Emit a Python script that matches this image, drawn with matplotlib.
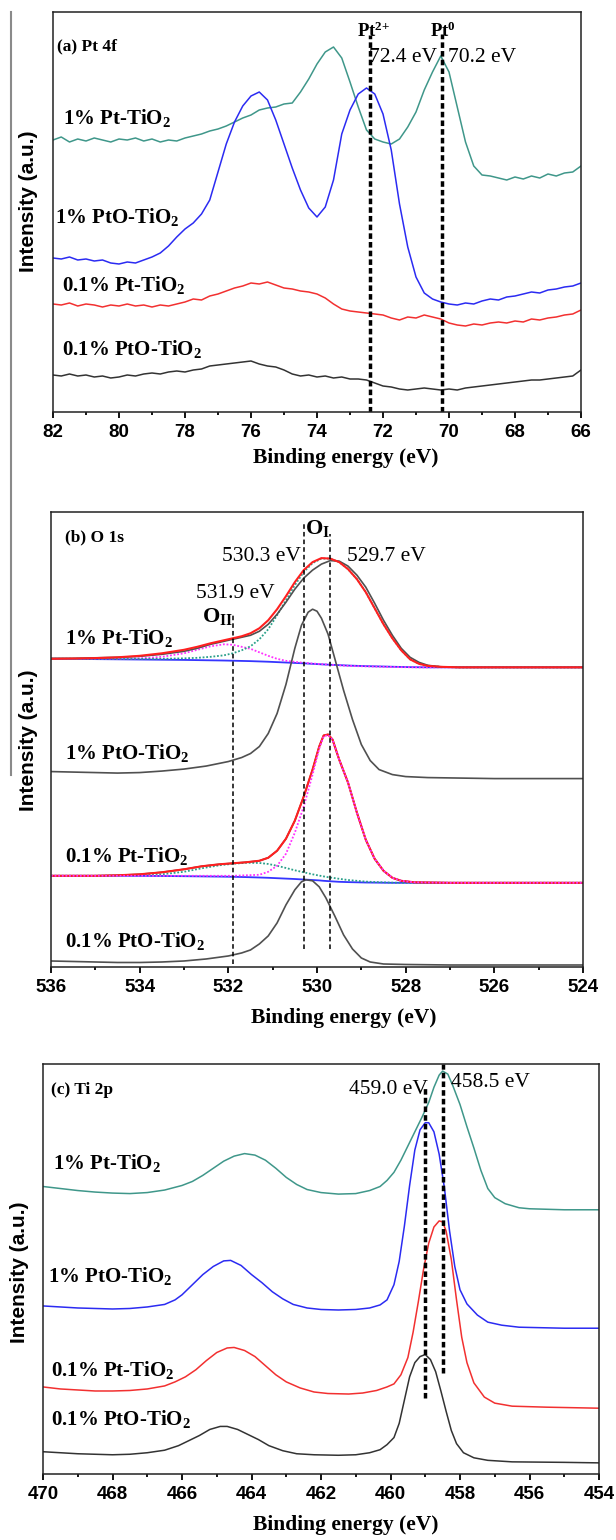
import matplotlib
matplotlib.use("Agg")
import matplotlib.pyplot as plt
from matplotlib.lines import Line2D
from matplotlib.ticker import MultipleLocator

plt.rcParams["mathtext.fontset"] = "custom"
plt.rcParams["mathtext.rm"] = "Liberation Serif"
plt.rcParams["mathtext.bf"] = "Liberation Serif:bold"
plt.rcParams["mathtext.default"] = "regular"

SERIF = "Liberation Serif"
SANS = "Liberation Sans"

# ---------------- (a) Pt 4f ----------------
pt_energy = [82.0 - 0.25 * i for i in range(65)]
pt_1_pt = [272, 275, 270, 273, 271, 274, 272, 270, 273, 272, 274, 271, 273, 270, 272, 271,
           274, 276, 278, 281, 283, 286, 290, 294, 297, 302, 304, 305, 308, 309, 320, 333,
           348, 360, 365, 354, 330, 305, 282, 273, 270, 268, 273, 285, 300, 322, 340, 356,
           340, 305, 270, 246, 237, 236, 234, 232, 235, 233, 236, 234, 238, 236, 239, 240, 246]
pt_1_pto = [154, 153, 155, 152, 153, 151, 152, 149, 148, 150, 149, 152, 155, 159, 166, 175,
            183, 189, 198, 212, 240, 268, 290, 306, 316, 320, 312, 292, 268, 244, 222, 204,
            195, 205, 232, 278, 302, 318, 324, 318, 298, 262, 208, 165, 135, 119, 113, 110,
            108, 107, 109, 108, 111, 113, 112, 115, 116, 118, 120, 119, 122, 123, 125, 126, 129]
pt_01_pt = [108, 107, 109, 106, 108, 107, 105, 107, 106, 108, 106, 107, 105, 107, 106, 108,
            110, 113, 112, 116, 118, 121, 124, 126, 129, 128, 130, 127, 124, 123, 121, 120,
            118, 114, 108, 103, 101, 100, 99, 98, 97, 94, 92, 95, 94, 97, 95, 93,
            89, 87, 86, 88, 87, 89, 90, 89, 91, 90, 93, 92, 94, 95, 97, 98, 102]
pt_01_pto = [37, 36, 38, 36, 37, 35, 36, 34, 35, 37, 36, 38, 39, 38, 40, 41,
             40, 42, 43, 46, 47, 48, 49, 50, 51, 48, 46, 45, 42, 38, 36, 37,
             35, 36, 34, 35, 33, 33, 32, 29, 26, 25, 23, 22, 23, 24, 23, 22,
             23, 22, 24, 25, 26, 27, 28, 29, 30, 31, 32, 32, 33, 34, 35, 36, 42]
pt_peaks = [72.4, 70.2]
pt_peak_tops = [377, 378]

# ---------------- (b) O 1s ----------------
o_1pt_e = [536.0, 535.5, 535.0, 534.5, 534.0, 533.5, 533.0, 532.7, 532.4, 532.1, 531.9, 531.7,
           531.5, 531.3, 531.1, 530.9, 530.7, 530.5, 530.3, 530.1, 529.9, 529.7, 529.5, 529.3,
           529.1, 528.9, 528.7, 528.5, 528.3, 528.1, 527.9, 527.7, 527.5, 527.2, 526.8, 526.0,
           525.0, 524.0]
o_1pt_data = [308, 308, 308.5, 309, 310, 312, 315, 318, 322, 325, 327, 329,
              331, 335, 342, 352, 364, 377, 388, 396, 402, 405.5, 405, 400,
              391, 379, 363, 346, 331, 318, 309, 304, 301, 299.5, 299, 299,
              299, 299]
o_1pt_fit = [307.5, 307.8, 308.2, 309, 310.5, 313, 316.5, 319.5, 323, 326, 328, 330,
             333, 338, 346, 357, 370, 384, 396, 404, 408, 407.5, 404, 397,
             387, 374, 358, 342, 328, 316, 307, 302.5, 300.5, 299.5, 299, 299,
             299, 299]
o_1pt_oi = [307.5, 307.5, 307.5, 307.5, 307.5, 307.5, 308, 308.5, 309.5, 311, 313, 316,
            320, 327, 337, 351, 366, 381, 394, 403, 407.5, 407.5, 404, 397,
            387, 374, 358, 342, 328, 316, 307, 302.5, 300.5, 299.5, 299, 299,
            299, 299]
o_1pt_oii = [307.5, 307.5, 307.5, 307.6, 308, 309.5, 313, 316.5, 320, 322, 321.5, 319.5,
             317.5, 314, 310.5, 307.5, 305.5, 304.5, 303.5, 302.8, 302.2, 301.6, 301, 300.5,
             300.2, 300, 299.8, 299.6, 299.4, 299.2, 299.1, 299, 299, 299, 299, 299,
             299, 299]
o_1pt_base = [307.5, 307.4, 307.2, 307, 306.8, 306.6, 306.4, 306.2, 306, 305.8, 305.6, 305.4,
              305.2, 304.9, 304.6, 304.2, 303.8, 303.4, 303, 302.5, 302, 301.6, 301.2, 300.8,
              300.5, 300.2, 300, 299.8, 299.6, 299.4, 299.2, 299.1, 299, 299, 299, 299,
              299, 299]

o_1pto_e = [536.0, 535.5, 535.0, 534.5, 534.0, 533.5, 533.0, 532.5, 532.0, 531.7, 531.5, 531.3,
            531.1, 530.9, 530.7, 530.5, 530.35, 530.2, 530.1, 530.0, 529.9, 529.75, 529.6,
            529.4, 529.2, 529.0, 528.8, 528.6, 528.3, 528.0, 527.5, 526.0, 524.0]
o_1pto_data = [195, 194.5, 194, 193.5, 194, 195.5, 197.5, 200.5, 205, 209, 213, 220,
               233, 253, 282, 318, 341, 354, 357, 355, 348, 332, 308,
               276, 247, 222, 206, 197, 192, 190, 189, 188, 188]

o_01pt_e = [536.0, 535.0, 534.5, 534.0, 533.5, 533.0, 532.6, 532.2, 531.9, 531.6, 531.3, 531.1,
            530.9, 530.7, 530.5, 530.3, 530.1, 529.95, 529.85, 529.75, 529.65, 529.5, 529.3,
            529.1, 528.9, 528.7, 528.5, 528.3, 528.1, 527.8, 527.0, 524.0]
o_01pt_data = [91, 91, 91.5, 92.5, 94.5, 97.5, 100.5, 102.5, 103.5, 104.5, 106, 109,
               116, 128, 146, 170, 197, 220, 231, 232, 227, 207, 184,
               154, 127, 108, 96, 89, 86, 84.5, 84, 84]
o_01pt_oi = [91, 91, 91, 91, 91, 91, 91, 91, 91, 91.5, 92, 95,
             101, 113, 134, 160, 192, 218, 230, 231.5, 227, 207, 184,
             154, 127, 108, 96, 89, 86, 84.5, 84, 84]
o_01pt_oii = [91, 91, 91.2, 91.6, 92.5, 95, 98.5, 101.5, 103, 104, 103.8, 102.8,
              101, 98.8, 96.5, 94.5, 92.5, 91.2, 90.4, 89.6, 89, 88, 86.8,
              86, 85.2, 84.8, 84.5, 84.2, 84, 84, 84, 84]
o_01pt_base = [91, 91, 91, 90.9, 90.8, 90.6, 90.4, 90.2, 90, 89.7, 89.3, 89,
               88.6, 88.2, 87.8, 87.3, 86.8, 86.4, 86, 85.7, 85.4, 85, 84.7,
               84.5, 84.3, 84.2, 84.1, 84, 84, 84, 84, 84]

o_01pto_e = [536.0, 535.5, 535.0, 534.5, 534.0, 533.5, 533.0, 532.5, 532.0, 531.7, 531.5, 531.3,
             531.1, 530.9, 530.7, 530.5, 530.35, 530.25, 530.1, 529.95, 529.8, 529.6, 529.4,
             529.2, 529.0, 528.8, 528.5, 528.0, 527.0, 524.0]
o_01pto_data = [6, 5.5, 5, 4.5, 4.5, 5, 6, 8, 11, 14, 17, 23,
                31, 44, 62, 77, 85, 87, 86, 80, 69, 51, 32,
                18, 9, 5, 3, 2.5, 2, 2]

o_peaks = [531.9, 530.3, 529.7]
o_peak_bottoms = [3, 18, 18]
o_peak_tops = [353, 443, 432]

# ---------------- (c) Ti 2p ----------------
ti_1pt_e = [470, 469.5, 469, 468.5, 468, 467.5, 467, 466.5, 466, 465.7, 465.4, 465.1, 464.8,
            464.5, 464.2, 463.9, 463.6, 463.3, 463.0, 462.7, 462.4, 462.0, 461.5, 461.0, 460.6,
            460.3, 460.1, 459.9, 459.7, 459.5, 459.3, 459.1, 458.9, 458.75, 458.6, 458.5,
            458.35, 458.2, 458.0, 457.8, 457.6, 457.4, 457.2, 457.0, 456.7, 456.3, 456.0,
            455.0, 454.0]
ti_1pt = [284, 282, 280, 278.5, 277.5, 277, 278, 280.5, 285, 289, 295, 302, 309,
          314, 316.5, 315, 310, 302, 293, 286, 281, 278, 276.5, 277, 280,
          284, 290, 298, 310, 324, 338, 352, 367, 382, 394, 398,
          395, 383, 365, 343, 322, 300, 282, 273, 267, 263, 262,
          261, 261]

ti_1pto_e = [470, 469.5, 469, 468.5, 468, 467.5, 467, 466.5, 466.2, 466.0, 465.7, 465.4, 465.1,
             464.8, 464.6, 464.3, 464.0, 463.7, 463.4, 463.1, 462.8, 462.4, 462.0, 461.5, 461.0,
             460.6, 460.3, 460.1, 459.9, 459.75, 459.6, 459.45, 459.3, 459.15, 459.0, 458.9,
             458.75, 458.6, 458.45, 458.3, 458.15, 458.0, 457.8, 457.5, 457.2, 456.8, 456.3,
             455.0, 454.0]
ti_1pto = [166, 165, 164, 163.5, 163, 163.5, 165, 167.5, 172, 177, 187, 197, 205,
           210.5, 211, 206, 197, 189, 180, 173, 167.5, 164, 162.5, 162, 162.5,
           164, 167, 172, 187, 210, 245, 285, 320, 340, 347, 347,
           338, 316, 283, 240, 205, 182, 168, 157, 150, 147, 145,
           144, 144]

ti_01pt_e = [470, 469.5, 469, 468.5, 468, 467.5, 467, 466.5, 466.2, 465.9, 465.6, 465.3, 465.0,
             464.7, 464.5, 464.2, 463.9, 463.6, 463.3, 463.0, 462.6, 462.2, 461.8, 461.2, 460.8,
             460.4, 460.1, 459.9, 459.7, 459.5, 459.35, 459.2, 459.05, 458.9, 458.75, 458.6,
             458.5, 458.4, 458.25, 458.1, 457.95, 457.8, 457.6, 457.3, 457.0, 456.5, 455.5,
             454.0]
ti_01pt = [86, 84, 83, 82, 82, 82.5, 84, 87, 91, 96, 103, 112, 120,
           124.5, 125, 122, 116, 107, 98, 91, 85, 81, 79.5, 79, 80,
           82.5, 86, 89, 98, 115, 140, 170, 202, 228, 244, 250,
           249, 240, 212, 172, 135, 110, 90, 76, 70, 67, 66,
           65]

ti_01pto_e = [470, 469.5, 469, 468.5, 468, 467.5, 467, 466.5, 466.1, 465.8, 465.5, 465.2, 464.9,
              464.7, 464.4, 464.1, 463.8, 463.5, 463.1, 462.7, 462.2, 461.5, 461.0, 460.6, 460.3,
              460.1, 459.9, 459.75, 459.6, 459.45, 459.3, 459.15, 459.0, 458.85, 458.7, 458.55,
              458.4, 458.25, 458.1, 457.9, 457.6, 457.2, 456.5, 455.0, 454.0]
ti_01pto = [22, 21, 20, 19.5, 19, 19.5, 21, 23.5, 28, 33, 38, 44, 47,
            47, 44, 39, 34, 28, 23, 20, 19, 18.5, 19, 21, 24,
            29, 36, 50, 73, 96, 110, 116, 118, 113, 101, 82,
            62, 43, 30, 21, 16, 13.5, 12, 11.5, 11]

ti_peaks = [459.0, 458.5]
ti_peak_bottoms = [75, 100]
ti_peak_tops = [382, 405]

sample_names = [r"1% Pt-TiO$_2$", r"1% PtO-TiO$_2$", r"0.1% Pt-TiO$_2$", r"0.1% PtO-TiO$_2$"]

TEAL = "#3f978a"
BLUE = "#2b2bf2"
RED = "#f23030"
DARK = "#333333"
GRAY = "#505050"

W, H = 616, 1540
fig = plt.figure(figsize=(W / 100, H / 100), dpi=100)


def axes_px(x0, x1, y0, y1):
    return fig.add_axes([x0 / W, 1 - y1 / H, (x1 - x0) / W, (y1 - y0) / H])


def style_axes(ax, xlim, ylim):
    ax.set_xlim(*xlim)
    ax.set_ylim(*ylim)
    ax.set_yticks([])
    ax.xaxis.set_major_locator(MultipleLocator(2))
    ax.xaxis.set_minor_locator(MultipleLocator(1))
    ax.tick_params(axis="x", which="major", direction="out", length=4.5, width=1.3, pad=4)
    ax.tick_params(axis="x", which="minor", direction="out", length=2.5, width=1.3)
    for lab in ax.get_xticklabels():
        lab.set_fontfamily(SANS)
        lab.set_fontweight("bold")
        lab.set_fontsize(13.5)
    for s in ax.spines.values():
        s.set_linewidth(1.1)
        s.set_color("#222222")


def axis_titles(xc, y_xlabel, x_ylabel, yc_ylabel):
    fig.text(xc / W, 1 - y_xlabel / H, "Binding energy (eV)", family=SERIF, weight="bold",
             fontsize=15.5, ha="center", va="center")
    fig.text(x_ylabel / W, 1 - yc_ylabel / H, "Intensity (a.u.)", family=SANS, weight="bold",
             fontsize=15, rotation=90, ha="center", va="center")


def sample_label(ax, x, y, s):
    ax.text(x, y, s, family=SERIF, weight="bold", fontsize=15, ha="left", va="baseline")


# panel (a)
ax = axes_px(53, 581, 12, 412)
ax.plot(pt_energy, pt_1_pt, color=TEAL, lw=1.1)
ax.plot(pt_energy, pt_1_pto, color=BLUE, lw=1.1)
ax.plot(pt_energy, pt_01_pt, color=RED, lw=1.1)
ax.plot(pt_energy, pt_01_pto, color=DARK, lw=1.1)
for e, top in zip(pt_peaks, pt_peak_tops):
    ax.plot([e, e], [0, top], color="black", lw=2.5, ls=(0, (1.6, 0.9)))
style_axes(ax, (82, 66), (0, 400))
ax.text(81.88, 362, "(a) Pt 4f", family=SERIF, weight="bold", fontsize=12.5, va="baseline")
ax.text(72.79, 375, r"Pt$^{2{+}}$", family=SERIF, weight="bold", fontsize=13.5, va="baseline")
ax.text(70.58, 375, r"Pt$^{0}$", family=SERIF, weight="bold", fontsize=13.5, va="baseline")
ax.text(72.42, 350, "72.4 eV", family=SERIF, fontsize=15.5, va="baseline")
ax.text(70.03, 350, "70.2 eV", family=SERIF, fontsize=15.5, va="baseline")
for (x, y), s in zip([(81.70, 288), (81.94, 189), (81.73, 121), (81.73, 57)], sample_names):
    sample_label(ax, x, y, s)
axis_titles(346, 458, 28, 201)

# panel (b)
ax = axes_px(51, 583, 512, 967)
ax.plot(o_1pt_e, o_1pt_base, color="#3535ff", lw=1.3)
ax.plot(o_1pt_e, o_1pt_oii, color="#ff30ff", lw=1.3, ls=(0, (1, 1)))
ax.plot(o_1pt_e, o_1pt_oi, color="#2aa08a", lw=1.3, ls=(0, (1, 1)))
ax.plot(o_1pt_e, o_1pt_data, color=GRAY, lw=1.2)
ax.plot(o_1pt_e, o_1pt_fit, color="#ff2020", lw=1.5)
ax.plot(o_1pto_e, o_1pto_data, color=GRAY, lw=1.2)
ax.plot(o_01pt_e, o_01pt_base, color="#3535ff", lw=1.3)
ax.plot(o_01pt_e, o_01pt_oii, color="#2aa08a", lw=1.3, ls=(0, (1, 1)))
ax.plot(o_01pt_e, o_01pt_data, color=GRAY, lw=1.2)
ax.plot(o_01pt_e, o_01pt_data, color="#ff2020", lw=1.5)
ax.plot(o_01pt_e, o_01pt_oi, color="#ff30ff", lw=1.3, ls=(0, (1, 1)))
ax.plot(o_01pto_e, o_01pto_data, color=GRAY, lw=1.2)
for e, lo, hi in zip(o_peaks, o_peak_bottoms, o_peak_tops):
    ax.plot([e, e], [lo, hi], color="black", lw=1.1, ls=(0, (3, 2)))
style_axes(ax, (536, 524), (0, 454))
ax.text(535.69, 425, "(b) O 1s", family=SERIF, weight="bold", fontsize=12.5, va="baseline")
ax.text(530.28, 432, r"O$_{I}$", family=SERIF, weight="bold", fontsize=16, va="baseline")
ax.text(530.37, 405, "530.3 eV", family=SERIF, fontsize=15.5, va="baseline", ha="right")
ax.text(529.32, 405, "529.7 eV", family=SERIF, fontsize=15.5, va="baseline")
ax.text(532.72, 368, "531.9 eV", family=SERIF, fontsize=15.5, va="baseline")
ax.text(532.60, 344, r"O$_{II}$", family=SERIF, weight="bold", fontsize=16, va="baseline")
for (x, y), s in zip([(535.69, 322), (535.69, 208), (535.69, 105), (535.69, 20)], sample_names):
    sample_label(ax, x, y, s)
axis_titles(344, 1018, 28, 740)

# panel (c)
ax = axes_px(43, 599, 1064, 1474)
ax.plot(ti_1pt_e, ti_1pt, color=TEAL, lw=1.1)
ax.plot(ti_1pto_e, ti_1pto, color=BLUE, lw=1.1)
ax.plot(ti_01pt_e, ti_01pt, color=RED, lw=1.1)
ax.plot(ti_01pto_e, ti_01pto, color=DARK, lw=1.1)
for e, lo, hi in zip(ti_peaks, ti_peak_bottoms, ti_peak_tops):
    ax.plot([e, e], [lo, hi], color="black", lw=2.5, ls=(0, (1.6, 0.9)))
style_axes(ax, (470, 454), (0, 405))
ax.text(469.77, 375, "(c) Ti 2p", family=SERIF, weight="bold", fontsize=12.5, va="baseline")
ax.text(458.93, 375, "459.0 eV", family=SERIF, fontsize=15.5, va="baseline", ha="right")
ax.text(458.25, 382, "458.5 eV", family=SERIF, fontsize=15.5, va="baseline")
for (x, y), s in zip([(469.72, 301), (469.86, 190), (469.77, 97), (469.77, 48)], sample_names):
    sample_label(ax, x, y, s)
axis_titles(346, 1525, 20, 1272)

# thin rule along the left margin
fig.add_artist(Line2D([11 / W, 11 / W], [1 - 12 / H, 1 - 775 / H], color="#8a8a8a", lw=1.5))

fig.savefig("out.png", dpi=100)
